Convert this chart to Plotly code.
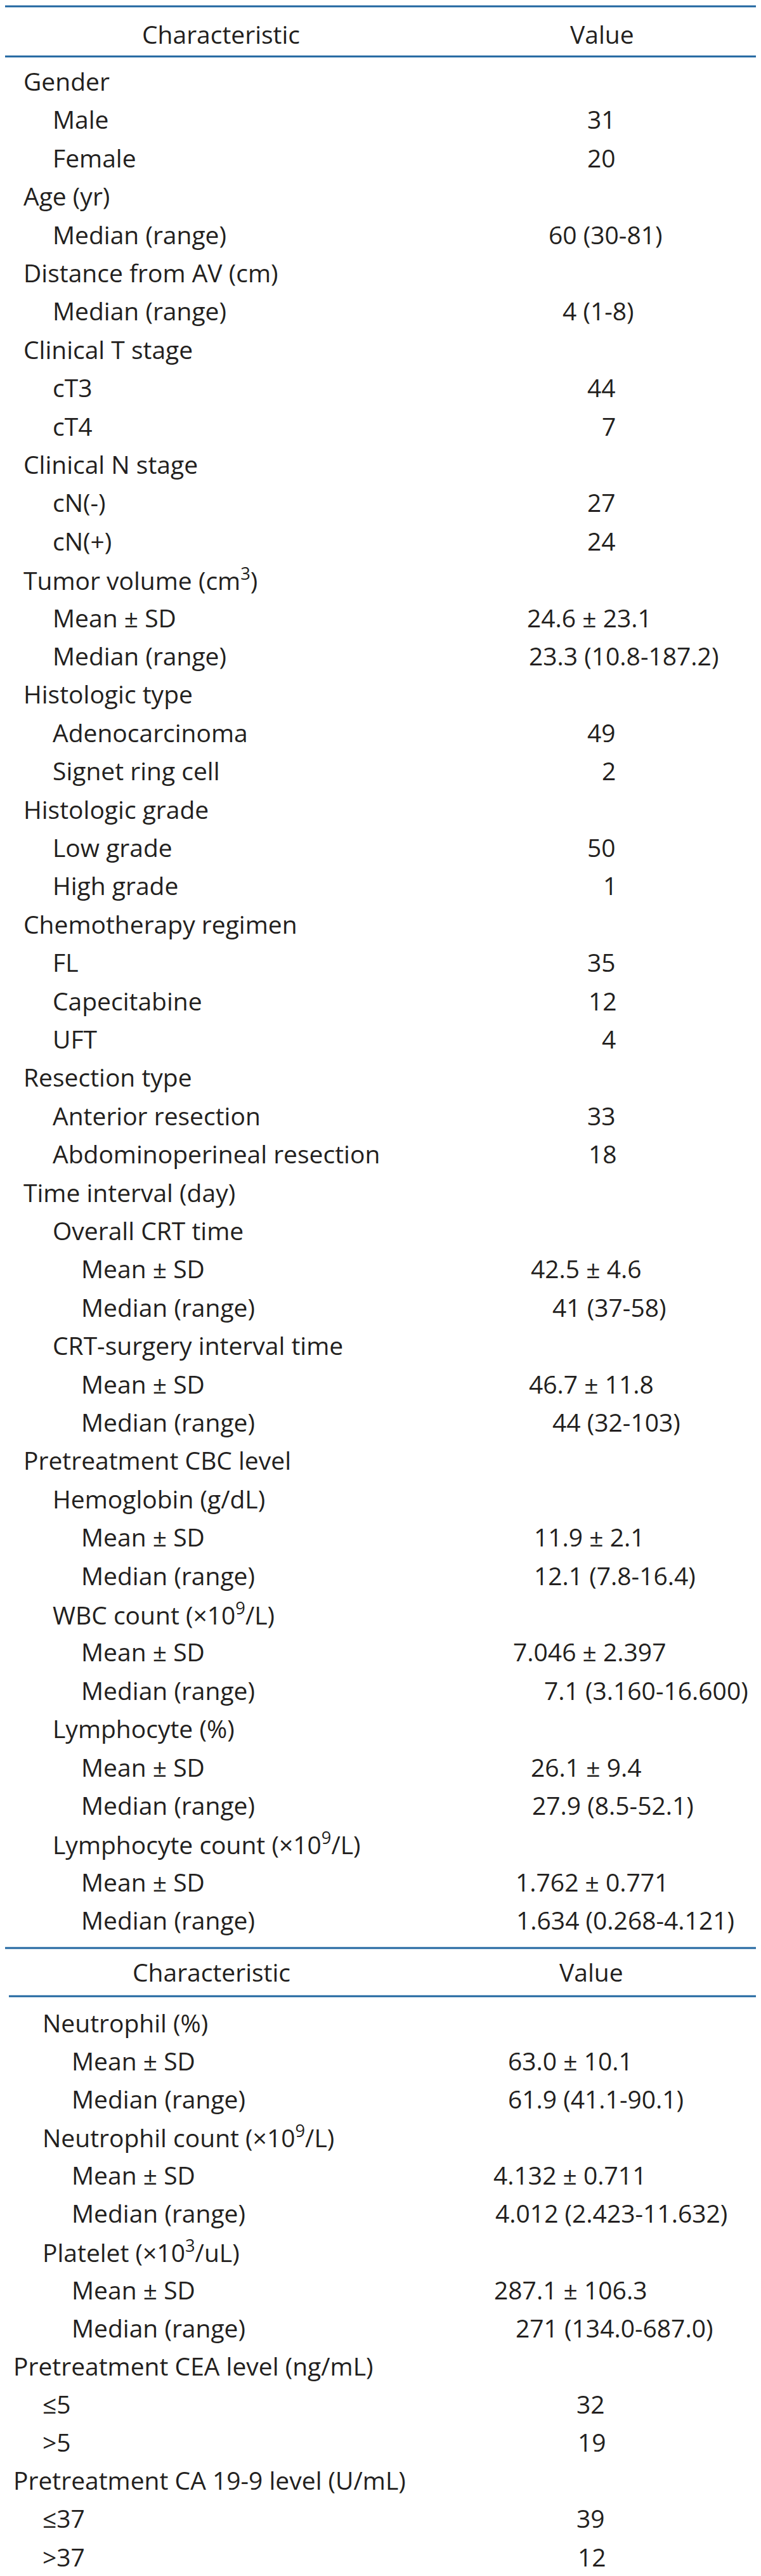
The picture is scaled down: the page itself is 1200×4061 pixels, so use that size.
import plotly.graph_objects as go

# ---------------- data ----------------
t1_labels = [
    "Gender", "Male", "Female",
    "Age (yr)", "Median (range)",
    "Distance from AV (cm)", "Median (range)",
    "Clinical T stage", "cT3", "cT4",
    "Clinical N stage", "cN(-)", "cN(+)",
    "Tumor volume (cm<sup>3</sup>)", "Mean ± SD", "Median (range)",
    "Histologic type", "Adenocarcinoma", "Signet ring cell",
    "Histologic grade", "Low grade", "High grade",
    "Chemotherapy regimen", "FL", "Capecitabine", "UFT",
    "Resection type", "Anterior resection", "Abdominoperineal resection",
    "Time interval (day)", "Overall CRT time", "Mean ± SD", "Median (range)",
    "CRT-surgery interval time", "Mean ± SD", "Median (range)",
    "Pretreatment CBC level", "Hemoglobin (g/dL)", "Mean ± SD", "Median (range)",
    "WBC count (×10<sup>9</sup>/L)", "Mean ± SD", "Median (range)",
    "Lymphocyte (%)", "Mean ± SD", "Median (range)",
    "Lymphocyte count (×10<sup>9</sup>/L)", "Mean ± SD", "Median (range)",
]
t1_levels = [
    0, 1, 1,
    0, 1,
    0, 1,
    0, 1, 1,
    0, 1, 1,
    0, 1, 1,
    0, 1, 1,
    0, 1, 1,
    0, 1, 1, 1,
    0, 1, 1,
    0, 1, 2, 2,
    1, 2, 2,
    0, 1, 2, 2,
    1, 2, 2,
    1, 2, 2,
    1, 2, 2,
]
t1_values = [
    "", "31", "20",
    "", "60 (30-81)",
    "", "4 (1-8)",
    "", "44", "7",
    "", "27", "24",
    "", "24.6 ± 23.1", "23.3 (10.8-187.2)",
    "", "49", "2",
    "", "50", "1",
    "", "35", "12", "4",
    "", "33", "18",
    "", "", "42.5 ± 4.6", "41 (37-58)",
    "", "46.7 ± 11.8", "44 (32-103)",
    "", "", "11.9 ± 2.1", "12.1 (7.8-16.4)",
    "", "7.046 ± 2.397", "7.1 (3.160-16.600)",
    "", "26.1 ± 9.4", "27.9 (8.5-52.1)",
    "", "1.762 ± 0.771", "1.634 (0.268-4.121)",
]

t2_labels = [
    "Neutrophil (%)", "Mean ± SD", "Median (range)",
    "Neutrophil count (×10<sup>9</sup>/L)", "Mean ± SD", "Median (range)",
    "Platelet (×10<sup>3</sup>/uL)", "Mean ± SD", "Median (range)",
    "Pretreatment CEA level (ng/mL)", "≤5", ">5",
    "Pretreatment CA 19-9 level (U/mL)", "≤37", ">37",
]
t2_levels = [1, 2, 2, 1, 2, 2, 1, 2, 2, 0, 1, 1, 0, 1, 1]
t2_values = [
    "", "63.0 ± 10.1", "61.9 (41.1-90.1)",
    "", "4.132 ± 0.711", "4.012 (2.423-11.632)",
    "", "287.1 ± 106.3", "271 (134.0-687.0)",
    "", "32", "19",
    "", "39", "12",
]

header_labels = ["Characteristic", "Value"]

# ---------------- layout (pixel positions, separate from data) ----------------
W, H = 1200, 4061
FONT = "Open Sans"
FS = 39
TXT = "#231f20"
LINE = "#2066a0"
PAD = 4

t1_first_y, t1_pitch = 119.5, 60.4
t2_first_y, t2_pitch = 3180.0, 60.15
t1_indent = [31, 77, 122]
t2_indent = [15, 61, 107]
t1_value_x = [None, 920, 920, None, 859, None, 881, None, 920, 943, None, 920, 920,
              None, 825, 828, None, 920, 943, None, 920, 945, None, 920, 922, 943,
              None, 920, 922, None, None, 831, 865, None, 828, 865, None, None, 836, 836,
              None, 803, 852, None, 831, 833, None, 807, 808]
t2_value_x = [None, 795, 795, None, 772, 775, None, 773, 807, None, 903, 905, None, 903, 905]

fig = go.Figure()
ann = []

def add_text(x, y, text, anchor="left"):
    ann.append(dict(x=x, y=y, xref="x", yref="y", text=text, showarrow=False,
                    xanchor=anchor, yanchor="middle",
                    font=dict(family=FONT, size=FS, color=TXT)))

# headers
add_text(340, 45, header_labels[0], "center")
add_text(941, 45, header_labels[1], "center")
add_text(325, 3100, header_labels[0], "center")
add_text(924, 3100, header_labels[1], "center")

for i, (lab, lv, val) in enumerate(zip(t1_labels, t1_levels, t1_values)):
    y = t1_first_y + i * t1_pitch
    add_text(t1_indent[lv] - PAD, y, lab)
    if val:
        add_text(t1_value_x[i] - PAD, y, val)

for i, (lab, lv, val) in enumerate(zip(t2_labels, t2_levels, t2_values)):
    y = t2_first_y + i * t2_pitch
    add_text(t2_indent[lv] - PAD, y, lab)
    if val:
        add_text(t2_value_x[i] - PAD, y, val)

shapes = []
for (x0, x1, y) in [(0, 1200, 2), (0, 1200, 81), (0, 1200, 3063), (6, 1186, 3139), (6, 1186, 4059)]:
    shapes.append(dict(type="line", xref="x", yref="y", x0=x0, x1=x1, y0=y, y1=y,
                       line=dict(color=LINE, width=3)))

fig.update_layout(
    width=W, height=H,
    margin=dict(l=0, r=0, t=0, b=0),
    paper_bgcolor="white", plot_bgcolor="white",
    xaxis=dict(range=[0, W], visible=False, fixedrange=True),
    yaxis=dict(range=[H, 0], visible=False, fixedrange=True),
    annotations=ann, shapes=shapes, showlegend=False,
)

fig.write_html("out.html")
